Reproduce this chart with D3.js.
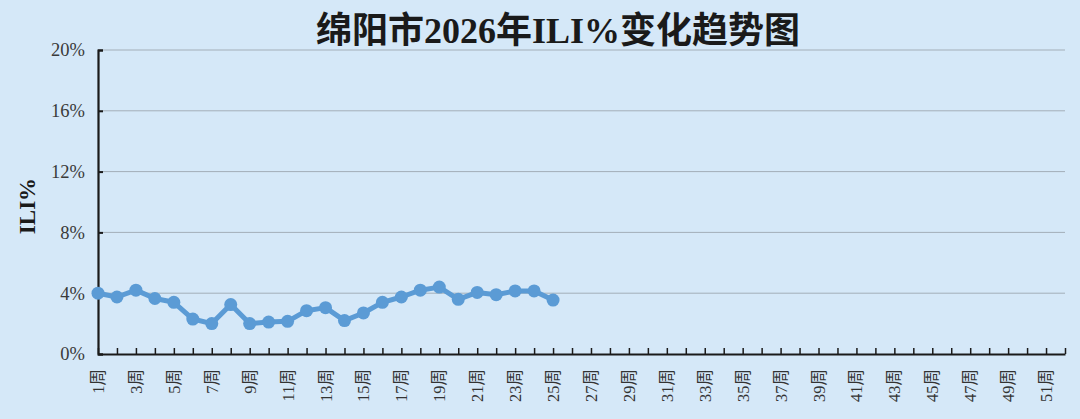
<!DOCTYPE html>
<html>
<head>
<meta charset="utf-8">
<script src="https://cdn.jsdelivr.net/npm/d3@7"></script>
<style>
  body { margin: 0; background: #d5e8f8; }
  svg { display: block; }
</style>
</head>
<body>
<div id="chart"></div>
<script>
// weeks 1..52, ILI% values (only weeks 1-25 reported)
const weeks = d3.range(1, 53);
const weekLabels = weeks.map(w => w + "周");
const iliValues = [4.0, 3.75, 4.2, 3.65, 3.4, 2.3, 2.0, 3.25, 2.0, 2.1,
                   2.15, 2.85, 3.05, 2.2, 2.7, 3.4, 3.75, 4.2, 4.4, 3.6,
                   4.05, 3.9, 4.15, 4.15, 3.55];
const yTicks = [0, 4, 8, 12, 16, 20];

const width = 1080, height = 419;
const margin = { top: 50, right: 15, bottom: 65, left: 98 };

const svg = d3.select("#chart").append("svg")
    .attr("width", width)
    .attr("height", height);

svg.append("rect")
    .attr("width", width)
    .attr("height", height)
    .attr("fill", "#d5e8f8");

const x = d3.scalePoint()
    .domain(weeks)
    .range([margin.left, width - margin.right]);

const y = d3.scaleLinear()
    .domain([0, 20])
    .range([height - margin.bottom, margin.top]);

// gridlines
svg.append("g")
    .selectAll("line")
    .data(yTicks.filter(d => d > 0))
    .join("line")
    .attr("x1", margin.left)
    .attr("x2", width - margin.right)
    .attr("y1", d => y(d))
    .attr("y2", d => y(d))
    .attr("stroke", "#a3aeb8")
    .attr("stroke-width", 1);

// y axis
const yAxis = svg.append("g")
    .attr("transform", "translate(" + margin.left + ",0)")
    .call(d3.axisRight(y).tickValues(yTicks).tickSize(5).tickFormat(d => d + "%"));
yAxis.select(".domain").attr("stroke", "#1a1a1a").attr("stroke-width", 2.2);
yAxis.selectAll(".tick line").attr("stroke", "#1a1a1a").attr("stroke-width", 2);
yAxis.selectAll(".tick text")
    .attr("x", -13)
    .attr("text-anchor", "end")
    .attr("font-family", "'Liberation Serif', 'Times New Roman', serif")
    .attr("font-size", 18.5)
    .attr("fill", "#3a3a3a");

// x axis
const xAxis = svg.append("g")
    .attr("transform", "translate(0," + y(0) + ")")
    .call(d3.axisTop(x).tickSize(6).tickSizeOuter(0).tickFormat(""));
xAxis.select(".domain").attr("stroke", "#1a1a1a").attr("stroke-width", 2.2);
xAxis.selectAll(".tick line").attr("stroke", "#1a1a1a").attr("stroke-width", 1.5);

// odd-week labels, rotated
svg.append("g")
    .selectAll("text")
    .data(weeks.filter(w => w % 2 === 1))
    .join("text")
    .attr("transform", d => "translate(" + (x(d) + 6) + "," + (y(0) + 15) + ") rotate(-90)")
    .attr("text-anchor", "end")
    .attr("font-family", "'Liberation Serif', 'Noto Sans CJK SC', serif")
    .attr("font-size", 16.5)
    .attr("fill", "#333")
    .text(d => weekLabels[d - 1]);

// line + markers
const line = d3.line()
    .x((d, i) => x(weeks[i]))
    .y(d => y(d));

svg.append("path")
    .datum(iliValues)
    .attr("d", line)
    .attr("fill", "none")
    .attr("stroke", "#5b9bd5")
    .attr("stroke-width", 5)
    .attr("stroke-linejoin", "round");

svg.append("g")
    .selectAll("circle")
    .data(iliValues)
    .join("circle")
    .attr("cx", (d, i) => x(weeks[i]))
    .attr("cy", d => y(d))
    .attr("r", 6.5)
    .attr("fill", "#5b9bd5");

// title
svg.append("text")
    .attr("x", 558)
    .attr("y", 43)
    .attr("text-anchor", "middle")
    .attr("font-family", "'Liberation Serif', 'Noto Sans CJK SC', serif")
    .attr("font-weight", "bold")
    .attr("font-size", 36)
    .attr("fill", "#1a1a1a")
    .text("绵阳市2026年ILI%变化趋势图");

// y axis title
svg.append("text")
    .attr("transform", "translate(35,206) rotate(-90)")
    .attr("text-anchor", "middle")
    .attr("font-family", "'Liberation Serif', serif")
    .attr("font-weight", "bold")
    .attr("font-size", 23)
    .attr("fill", "#1a1a1a")
    .text("ILI%");
</script>
</body>
</html>
